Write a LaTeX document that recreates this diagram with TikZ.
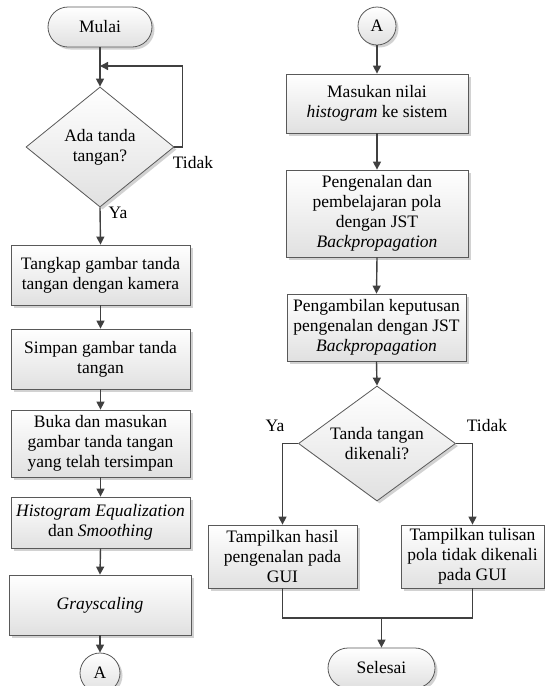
\documentclass[tikz,border=0pt]{standalone}
\usepackage{fontspec}
\setmainfont{Liberation Serif}
\usetikzlibrary{shapes.geometric,shapes.misc,arrows.meta,shadows}
\begin{document}
\begin{tikzpicture}[x=1pt,y=-1pt,
  every node/.style={font=\fontsize{17.5}{20}\selectfont, text=black},
  base/.style={draw=black!65, line width=0.8pt, top color=white, bottom color=black!12,
     drop shadow={shadow xshift=2.5pt, shadow yshift=-2.5pt, fill=black!35, opacity=0.5}},
  procbox/.style={base, rectangle, align=center, inner sep=2pt},
  termbox/.style={base, rounded rectangle, minimum width=104pt, minimum height=40pt, inner sep=0pt},
  connbox/.style={base, circle, inner sep=0pt},
  decbox/.style={base, diamond, align=center, inner sep=0pt},
  conn/.style={draw=black!75, line width=1.4pt},
  arr/.style={conn, -{Triangle[length=8pt,width=8pt]}},
  lbl/.style={inner sep=0pt}
]
\useasboundingbox (0,0) rectangle (545,686);

% left column
\node[termbox] (mulai) at (100,27) {Mulai};
\node[decbox, shape aspect=1.23, minimum width=148pt, minimum height=120pt] (d1) at (100,147) {Ada tanda\\tangan?};
\node[procbox, minimum width=179pt, minimum height=60pt] (b1) at (100.5,275) {Tangkap gambar tanda\\tangan dengan kamera};
\node[procbox, minimum width=179pt, minimum height=60pt] (b2) at (100.5,359) {Simpan gambar tanda\\tangan};
\node[procbox, minimum width=179pt, minimum height=67pt] (b3) at (100.5,443.5) {Buka dan masukan\\gambar tanda tangan\\yang telah tersimpan};
\node[procbox, minimum width=179pt, minimum height=51pt] (b4) at (100.5,522.5) {\textit{Histogram Equalization}\\dan \textit{Smoothing}};
\node[procbox, minimum width=182pt, minimum height=60pt] (b5) at (100,605) {\textit{Grayscaling}};
\node[connbox, minimum size=40pt] (ca1) at (100,673) {A};

\node[lbl] (tidak1) at (193,163) {Tidak};
\node[lbl] (ya1) at (118,213) {Ya};

\coordinate (lp) at (100,66);
\draw[arr] (mulai.south) -- (d1.north);
\draw[arr] (d1.east) -- ++(8,0) |- (lp);
\draw[arr] (d1.south) -- (b1.north);
\draw[arr] (b1.south) -- (b2.north);
\draw[arr] (b2.south) -- (b3.north);
\draw[arr] (b3.south) -- (b4.north);
\draw[arr] (b4.south) -- (b5.north);
\draw[arr] (b5.south) -- (ca1.north);

% right column
\node[connbox, minimum size=38pt] (ca2) at (377,26) {A};
\node[procbox, minimum width=182pt, minimum height=59pt] (r1) at (377,103.5) {Masukan nilai\\\textit{histogram} ke sistem};
\node[procbox, minimum width=182pt, minimum height=87pt] (r2) at (377,213.5) {Pengenalan dan\\pembelajaran pola\\dengan JST\\\textit{Backpropagation}};
\node[procbox, minimum width=179pt, minimum height=67pt] (r3) at (376.5,327.5) {Pengambilan keputusan\\pengenalan dengan JST\\\textit{Backpropagation}};
\node[decbox, shape aspect=1.37, minimum width=157pt, minimum height=115pt] (d2) at (377,443.5) {Tanda tangan\\dikenali?};
\node[procbox, minimum width=149pt, minimum height=63pt] (bl) at (282.5,556.5) {Tampilkan hasil\\pengenalan pada\\GUI};
\node[procbox, minimum width=143pt, minimum height=63pt] (br) at (472.5,556.5) {Tampilkan tulisan\\pola tidak dikenali\\pada GUI};
\node[termbox, minimum width=107pt] (selesai) at (381.5,668) {Selesai};

\node[lbl] (ya2) at (275,426) {Ya};
\node[lbl] (tidak2) at (487,426) {Tidak};

\coordinate (m) at (381.5,618);
\draw[arr] (ca2.south) -- (r1.north);
\draw[arr] (r1.south) -- (r2.north);
\draw[arr] (r2.south) -- (r3.north);
\draw[arr] (r3.south) -- (d2.north);
\draw[arr] (d2.west) -| (bl.north);
\draw[arr] (d2.east) -| (br.north);
\draw[conn] (bl.south) |- (m) -| (br.south);
\draw[arr] (m) -- (selesai.north);
\end{tikzpicture}
\end{document}
